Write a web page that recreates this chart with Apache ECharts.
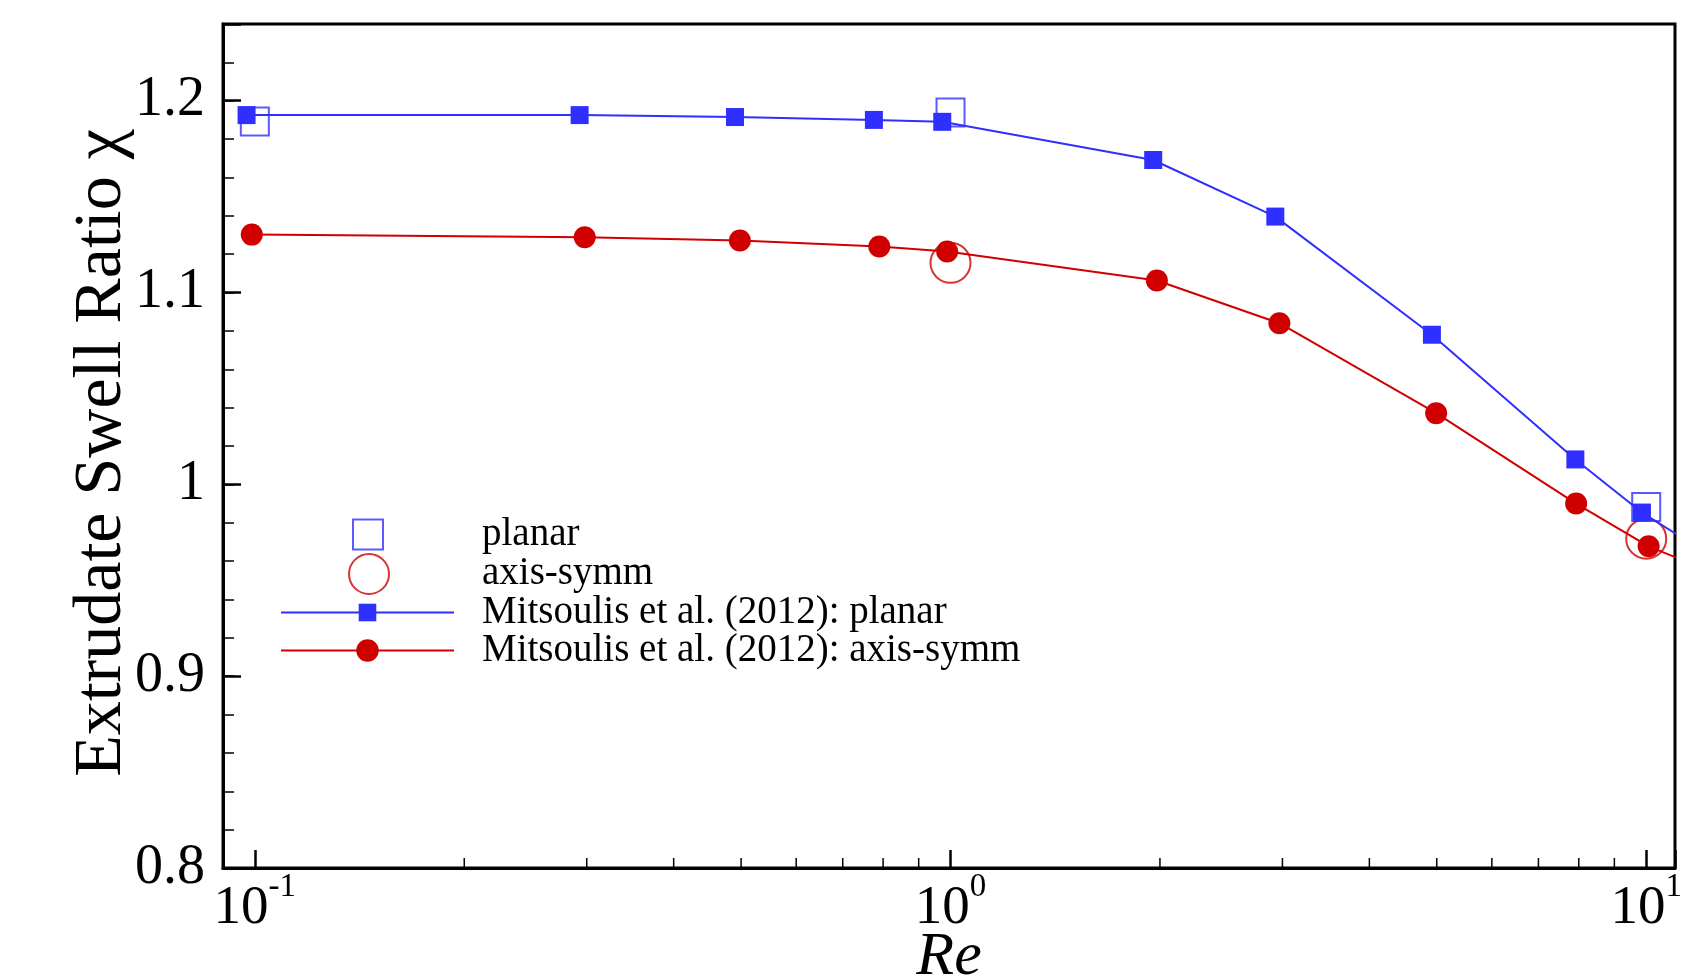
<!DOCTYPE html>
<html>
	<head>
		<meta charset="UTF-8">
		<title></title>
		<style>
			body { margin: 0; background: #fff; }
		</style>
	</head>
	<body>
		<div id="main" style="width: 1687px;height:975px;"></div>
		<script src="https://cdn.jsdelivr.net/npm/echarts@6/dist/echarts.min.js"></script>
		<script>
			// this work
			var rePlanar = [0.1, 1, 10];
			var chiPlanar = [1.1892, 1.1939, 0.9882];
			var reAxis = [1, 10];
			var chiAxis = [1.1155, 0.9717];
			// Mitsoulis et al. (2012)
			var reMitsPlanar = [0.0973, 0.293, 0.49, 0.776, 0.973, 1.956, 2.93, 4.92, 7.91, 9.86, 12];
			var chiMitsPlanar = [1.1925, 1.1925, 1.1915, 1.190, 1.189, 1.1691, 1.1396, 1.078, 1.013, 0.9853, 0.966];
			var reMitsAxis = [0.099, 0.298, 0.498, 0.79, 0.989, 1.98, 2.97, 4.99, 7.93, 10.08, 12];
			var chiMitsAxis = [1.1302, 1.1288, 1.1271, 1.124, 1.1214, 1.1063, 1.084, 1.0371, 0.990, 0.9677, 0.9565];
			// x minor ticks
			var xMinorTicks = [0.2, 0.3, 0.4, 0.5, 0.6, 0.7, 0.8, 0.9, 2, 3, 4, 5, 6, 7, 8, 9];

			var font = 'Liberation Serif';
			var blue = '#2f2fff';
			var red = '#d00000';

			function pairs(xs, ys) {
				return xs.map(function (x, i) { return [x, ys[i]]; });
			}

			function legendOf(name, left, top, w, h, pad) {
				return {
					data: [name],
					orient: 'vertical',
					left: left,
					top: top,
					padding: 0,
					itemWidth: w,
					itemHeight: h,
					selectedMode: false,
					textStyle: {
						fontFamily: font,
						fontSize: 39,
						color: '#000',
						padding: [0, 0, 0, pad]
					}
				};
			}

			var chart = echarts.init(document.getElementById('main'));
			chart.setOption({
				animation: false,
				backgroundColor: '#fff',
				grid: {
					left: 223, right: 12, top: 24, bottom: 107,
					containLabel: false,
					outerBoundsMode: 'none',
					show: true, borderColor: '#000', borderWidth: 3
				},
				legend: [
					legendOf('planar', 352, 515, 30, 30, 94),
					legendOf('axis-symm', 348, 553, 40, 40, 88),
					legendOf('Mitsoulis et al. (2012): planar', 280, 593, 173, 22, 23),
					legendOf('Mitsoulis et al. (2012): axis-symm', 280, 631, 173, 28, 23)
				],
				xAxis: {
					type: 'log',
					logBase: 10,
					min: 0.09,
					max: 11,
					name: 'Re',
					nameLocation: 'middle',
					nameGap: 59,
					nameMoveOverlap: false,
					nameTextStyle: { fontFamily: font, fontSize: 62, fontStyle: 'italic', color: '#000' },
					axisLine: { lineStyle: { color: '#000', width: 3 } },
					axisTick: { inside: true, length: 18, lineStyle: { color: '#000', width: 2.5 } },
					splitLine: { show: false },
					axisLabel: {
						margin: 13,
						color: '#000',
						formatter: function (v) {
							var l = Math.log10(v);
							var e = Math.round(l);
							if (Math.abs(l - e) > 1e-6) return '';
							return '{b|10}{s|' + e + '}';
						},
						rich: {
							b: { fontFamily: font, fontSize: 55, lineHeight: 55, color: '#000' },
							s: { fontFamily: font, fontSize: 33, lineHeight: 55, padding: [0, 0, 43, 0], color: '#000' }
						}
					}
				},
				yAxis: [{
					type: 'value',
					min: 0.8,
					max: 1.24,
					interval: 0.1,
					name: 'Extrudate Swell Ratio χ',
					nameLocation: 'middle',
					nameGap: 87,
					nameMoveOverlap: false,
					nameTextStyle: { fontFamily: font, fontSize: 68, color: '#000', padding: [0, 14, 0, 0] },
					axisLine: { show: true, lineStyle: { color: '#000', width: 3 } },
					axisTick: { inside: true, length: 18, lineStyle: { color: '#000', width: 2.5 } },
					splitLine: { show: false },
					axisLabel: {
						margin: 18,
						fontFamily: font,
						fontSize: 56,
						color: '#000',
						formatter: function (v) {
							if (Math.abs(v * 10 - Math.round(v * 10)) > 1e-6) return '';
							return String(+v.toFixed(1));
						}
					}
				}, {
					type: 'value',
					min: 0.8,
					max: 1.24,
					interval: 0.02,
					position: 'left',
					axisLine: { show: false },
					axisTick: { inside: true, length: 11, lineStyle: { color: '#000', width: 1.5 } },
					axisLabel: { show: false },
					splitLine: { show: false }
				}],
				series: [{
					name: 'planar',
					type: 'scatter',
					data: pairs(rePlanar, chiPlanar),
					symbol: 'rect',
					symbolSize: 28,
					itemStyle: { color: 'transparent', borderColor: blue, borderWidth: 2 },
					z: 2
				}, {
					name: 'axis-symm',
					type: 'scatter',
					data: pairs(reAxis, chiAxis),
					symbol: 'circle',
					symbolSize: 40,
					itemStyle: { color: 'transparent', borderColor: red, borderWidth: 2 },
					z: 2
				}, {
					name: 'Mitsoulis et al. (2012): planar',
					type: 'line',
					data: pairs(reMitsPlanar, chiMitsPlanar),
					symbol: 'rect',
					symbolSize: 18,
					showSymbol: true,
					color: blue,
					lineStyle: { color: blue, width: 2 },
					itemStyle: { color: blue },
					z: 3
				}, {
					name: 'Mitsoulis et al. (2012): axis-symm',
					type: 'line',
					data: pairs(reMitsAxis, chiMitsAxis),
					symbol: 'circle',
					symbolSize: 22,
					showSymbol: true,
					color: red,
					lineStyle: { color: red, width: 2 },
					itemStyle: { color: red },
					z: 3
				}, {
					type: 'custom',
					silent: true,
					clip: false,
					data: xMinorTicks.map(function (v) { return [v]; }),
					renderItem: function (params, api) {
						var p = api.coord([api.value(0), 0.8]);
						return {
							type: 'line',
							shape: { x1: p[0], y1: p[1], x2: p[0], y2: p[1] - 10 },
							style: { stroke: '#000', lineWidth: 1.5 }
						};
					},
					z: 4
				}]
			});
		</script>
	</body>
</html>
